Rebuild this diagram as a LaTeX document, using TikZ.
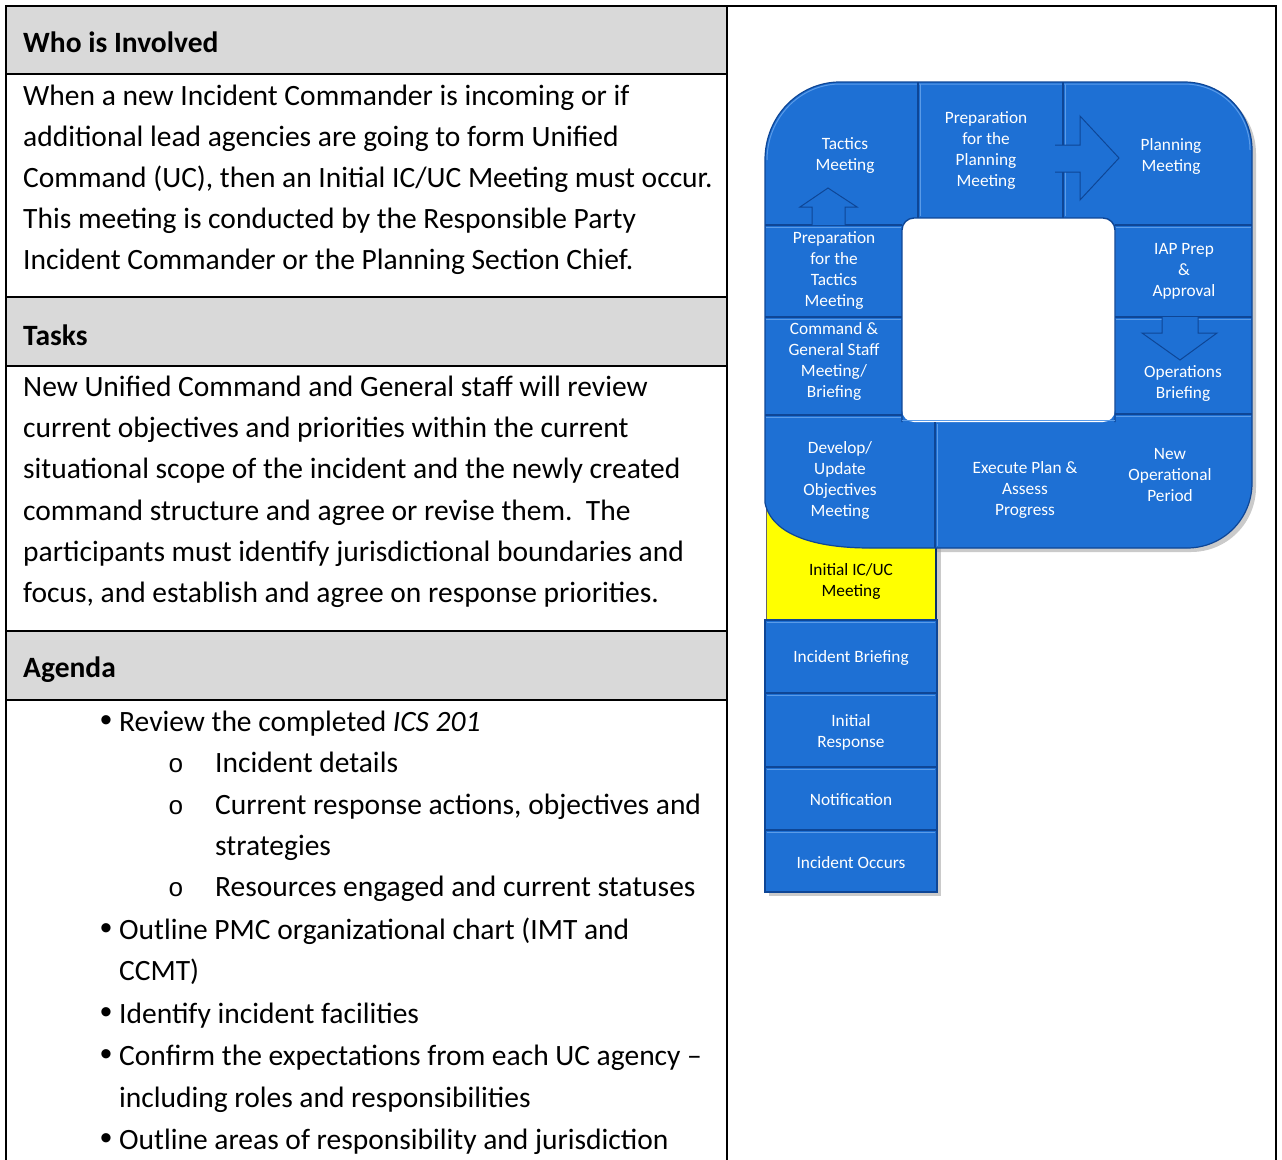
\documentclass[tikz,border=0pt]{standalone}
\usepackage{fontspec}
\setmainfont{Carlito}
\newfontfamily\monof{Liberation Mono}
\newfontfamily\bulf{Liberation Sans}
\definecolor{hdrgray}{RGB}{217,217,217}
\definecolor{pblue}{RGB}{30,112,212}
\definecolor{pdark}{RGB}{14,70,150}
\definecolor{plight}{RGB}{90,155,232}
\definecolor{pyellow}{RGB}{255,255,0}
\begin{document}
\begin{tikzpicture}[x=1pt,y=-1pt,
  tline/.style={line width=2pt,black},
  hdr/.style={anchor=base west,inner sep=0,font=\fontsize{29.5}{41}\selectfont\bfseries},
  body/.style={anchor=base west,inner sep=0,font=\fontsize{29.5}{41}\selectfont},
  bul/.style={anchor=base,inner sep=0,font=\bulf\fontsize{34}{41}\selectfont},
  sbul/.style={anchor=base,inner sep=0,font=\monof\fontsize{26}{41}\selectfont},
  plabel/.style={text=white,align=center,inner sep=0,font=\fontsize{17.3}{21}\selectfont},
  plabelk/.style={text=black,align=center,inner sep=0,font=\fontsize{17.3}{21}\selectfont},
  edge/.style={pdark,line width=1.6pt},
  hl/.style={plight,line width=1pt},
  arrowshape/.style={fill=pblue,draw=pdark,line width=1pt,line join=miter},
  stemblock/.style={fill=pblue,draw=pdark,line width=1.2pt}
]
\useasboundingbox (0,0) rectangle (1282,1159);
% ---------------- table ----------------
\fill[hdrgray] (6,6) rectangle (727,74);
\fill[hdrgray] (6,297) rectangle (727,366);
\fill[hdrgray] (6,631) rectangle (727,700);
\draw[tline] (6,1162) -- (6,6) -- (1276,6) -- (1276,1162);
\draw[tline] (727,6) -- (727,1162);
\foreach \yy in {74,297,366,631,700} \draw[tline] (6,\yy) -- (727,\yy);

\node[hdr] (h1) at (23,52) {Who is Involved};
\node[body] (b1a) at (23,105) {When a new Incident Commander is incoming or if};
\node[body] (b1b) at (23,146) {additional lead agencies are going to form Unified};
\node[body] (b1c) at (23,187) {Command (UC), then an Initial IC/UC Meeting must occur.};
\node[body] (b1d) at (23,228) {This meeting is conducted by the Responsible Party};
\node[body] (b1e) at (23,269) {Incident Commander or the Planning Section Chief.};

\node[hdr] (h2) at (23,345) {Tasks};
\node[body] (b2a) at (23,396) {New Unified Command and General staff will review};
\node[body] (b2b) at (23,437) {current objectives and priorities within the current};
\node[body] (b2c) at (23,478) {situational scope of the incident and the newly created};
\node[body] (b2d) at (23,520) {command structure and agree or revise them.\ \ The};
\node[body] (b2f1) at (23,561) {participants must identify jurisdictional boundaries and};
\node[body] (b2f) at (23,602) {focus, and establish and agree on response priorities.};

\node[hdr] (h3) at (23,677) {Agenda};
\node[bul] (u1) at (106,731) {•};
\node[body] (a1) at (119,731) {Review the completed \textit{ICS 201}};
\node[sbul] (s1) at (176,772) {o};
\node[body] (a2) at (215,772) {Incident details};
\node[sbul] (s2) at (176,814) {o};
\node[body] (a3) at (215,814) {Current response actions, objectives and};
\node[body] (a4) at (215,855) {strategies};
\node[sbul] (s3) at (176,896) {o};
\node[body] (a5) at (215,896) {Resources engaged and current statuses};
\node[bul] (u2) at (106,939) {•};
\node[body] (a6) at (119,939) {Outline PMC organizational chart (IMT and};
\node[body] (a7) at (119,980) {CCMT)};
\node[bul] (u3) at (106,1023) {•};
\node[body] (a8) at (119,1023) {Identify incident facilities};
\node[bul] (u4) at (106,1065) {•};
\node[body] (a9) at (119,1065) {Confirm the expectations from each UC agency –};
\node[body] (a10) at (119,1107) {including roles and responsibilities};
\node[bul] (u5) at (106,1149) {•};
\node[body] (a11) at (119,1149) {Outline areas of responsibility and jurisdiction};

% ---------------- P diagram ----------------
% shadow
\fill[black!35,opacity=0.6] (769,165) -- (769,507) .. controls (776,539) and (819,552) .. (874,552) -- (1191,552) .. controls (1227,552) and (1256,523) .. (1256,487) -- (1256,154) .. controls (1256,116) and (1226,86) .. (1188,86) -- (844,86) .. controls (803,86) and (769,120) .. (769,165) -- cycle;
\fill[black!35,opacity=0.6] (769,540) rectangle (941,896);
% yellow block
\fill[pyellow] (766,480) rectangle (936,620);
\draw[pdark!70!black,line width=1.2pt] (936,540) -- (936,620);
\draw[black!60,line width=1pt] (766,490) -- (766,620);
% bowl
\fill[pblue] (765,160) -- (765,503) .. controls (772,535) and (815,548) .. (870,548) -- (1187,548) .. controls (1223,548) and (1252,519) .. (1252,483) -- (1252,150) .. controls (1252,112) and (1222,82) .. (1184,82) -- (840,82) .. controls (799,82) and (765,116) .. (765,160) -- cycle;
\draw[pdark,line width=1.2pt] (765,160) -- (765,503) .. controls (772,535) and (815,548) .. (870,548) -- (1187,548) .. controls (1223,548) and (1252,519) .. (1252,483) -- (1252,150) .. controls (1252,112) and (1222,82) .. (1184,82) -- (840,82) .. controls (799,82) and (765,116) .. (765,160) -- cycle;
\draw[plight,line width=1pt] (767,160) .. controls (767,118) and (800,84) .. (840,84) -- (1184,84) .. controls (1221,84) and (1250,113) .. (1250,150);
% hole
\fill[white,rounded corners=12] (902,218) rectangle (1115,422);
\draw[pdark,line width=1.4pt,rounded corners=12] (902,422) -- (902,218) -- (1115,218) -- (1115,422);
\draw[plight,line width=1pt,rounded corners=12] (902,420) -- (1115,420);
% dividers
\draw[edge] (918,82) -- (918,218);
\draw[hl] (920,84) -- (920,216);
\draw[edge] (1063,82) -- (1063,218);
\draw[hl] (1065,84) -- (1065,216);
\foreach \yy in {225,317,415} {
  \draw[edge] (765,\yy) -- (902,\yy);
  \draw[hl] (766,\yy+2) -- (901,\yy+2);
}
\foreach \yy in {225,317} {
  \draw[edge] (1115,\yy) -- (1252,\yy);
  \draw[hl] (1116,\yy+2) -- (1251,\yy+2);
}
\draw[edge] (1115,414) -- (1252,414);
\draw[hl] (1116,416) -- (1251,416);
\draw[edge] (935,422) -- (935,548);
\draw[hl] (937,424) -- (937,546);
% arrows
\draw[arrowshape] (1055,145) -- (1080,145) -- (1080,116) -- (1119,158) -- (1080,200) -- (1080,172) -- (1055,172);
\draw[arrowshape] (812,225) -- (812,207) -- (800,207) -- (828,188) -- (857,207) -- (845,207) -- (845,225);
\draw[arrowshape] (1162,317) -- (1162,333) -- (1142,333) -- (1180,360) -- (1217,333) -- (1198,333) -- (1198,317);
% stem
\draw[stemblock] (765,620) rectangle (937,693);
\draw[stemblock] (765,693) rectangle (937,767);
\draw[stemblock] (765,767) rectangle (937,830);
\draw[stemblock] (765,830) rectangle (937,892);
\foreach \yy in {620,693,767,830} \draw[hl] (767,\yy+2) -- (935,\yy+2);

% labels
\node[plabel] (tac) at (845,156) {Tactics\\Meeting};
\node[plabel] (ppm) at (986,151) {Preparation\\for the\\Planning\\Meeting};
\node[plabel] (pm) at (1171,156) {Planning\\Meeting};
\node[plabel] (ptm) at (834,271) {Preparation\\for the\\Tactics\\Meeting};
\node[plabel] (iap) at (1184,271) {IAP Prep\\\&\\Approval};
\node[plabel] (cgs) at (834,361) {Command \&\\General Staff\\Meeting/\\Briefing};
\node[plabel] (opb) at (1183,384) {Operations\\Briefing};
\node[plabel] (dev) at (840,480) {Develop/\\Update\\Objectives\\Meeting};
\node[plabel] (exe) at (1025,490) {Execute Plan \&\\Assess\\Progress};
\node[plabel] (nop) at (1170,475) {New\\Operational\\Period};
\node[plabelk] (icuc) at (851,581) {Initial IC/UC\\Meeting};
\node[plabel] (ibr) at (851,658) {Incident Briefing};
\node[plabel] (ires) at (851,732) {Initial\\Response};
\node[plabel] (notif) at (851,800) {Notification};
\node[plabel] (occ) at (851,863) {Incident Occurs};
\end{tikzpicture}
\end{document}
